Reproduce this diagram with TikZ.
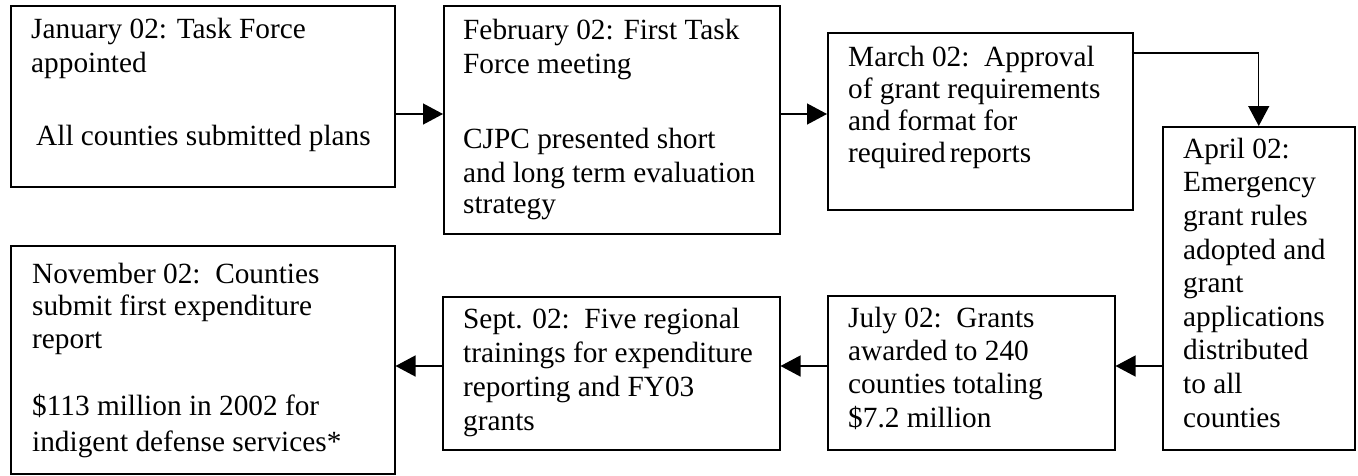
\documentclass[tikz,border=0pt]{standalone}
\usepackage{fontspec}
\setmainfont{Liberation Serif}
\usetikzlibrary{arrows.meta}
\begin{document}
\begin{tikzpicture}[x=1pt,y=-1pt,
  box/.style 2 args={draw, line width=1.5pt, minimum width=#1pt, minimum height=#2pt, anchor=north west, inner sep=0pt},
  txt/.style={anchor=base west, inner sep=0pt, align=left, font=\fontsize{29.3}{34}\selectfont},
  arr/.style={line width=1.3pt, -{Triangle[length=20pt,width=21pt]}}]
\useasboundingbox (0,0) rectangle (1358,475);
% boxes
\node[box={384}{181}] (jan) at (10,5) {};
\node[box={336}{228}] (feb) at (443,5) {};
\node[box={305}{177}] (mar) at (827,32) {};
\node[box={192}{323}] (apr) at (1162,126) {};
\node[box={287}{154}] (jul) at (827,295) {};
\node[box={337}{153}] (sep) at (442,296) {};
\node[box={384}{228}] (nov) at (10,245) {};
% texts (anchored at the baseline of their last line)
\node[txt] (tjan) at (31,145) {January 02: Task Force\\appointed\\[39pt]\hspace{5pt}All counties submitted plans};
\node[txt] (tfeb) at (463,213) {February 02: First Task\\Force meeting\\[41pt]CJPC presented short\\and long term evaluation\\[-3pt]strategy};
\node[txt, font=\fontsize{29.3}{32}\selectfont] (tmar) at (848,162) {March 02:\ \ Approval\\of grant requirements\\and format for\\required\hspace{4pt}reports};
\node[txt, font=\fontsize{29.3}{33.6}\selectfont] (tapr) at (1183,427) {April 02:\\Emergency\\grant rules\\adopted and\\grant\\applications\\distributed\\to all\\counties};
\node[txt, font=\fontsize{29.3}{33.3}\selectfont] (tjul) at (848,427) {July 02:\ \ Grants\\awarded to 240\\counties totaling\\\$7.2 million};
\node[txt] (tsep) at (463,430) {Sept. 02:\ \ Five regional\\trainings for expenditure\\reporting and FY03\\grants};
\node[txt, font=\fontsize{29.3}{32.5}\selectfont] (tnov) at (32,451) {November 02:\ \ Counties\\submit first expenditure\\report\\[35pt]\$113 million in 2002 for\\[3pt]indigent defense services*};
% rows for connectors
\coordinate (r1) at (0,114);
\coordinate (r2) at (0,53);
\coordinate (r3) at (0,366);
% connectors
\draw[arr] (jan.east |- r1) -- (feb.west |- r1);
\draw[arr] (feb.east |- r1) -- (mar.west |- r1);
\draw[arr] ([xshift=-2pt]mar.east |- r2) -| (apr.north);
\draw[arr] (apr.west |- r3) -- (jul.east |- r3);
\draw[arr] (jul.west |- r3) -- (sep.east |- r3);
\draw[arr] (sep.west |- r3) -- (nov.east |- r3);
\end{tikzpicture}
\end{document}
